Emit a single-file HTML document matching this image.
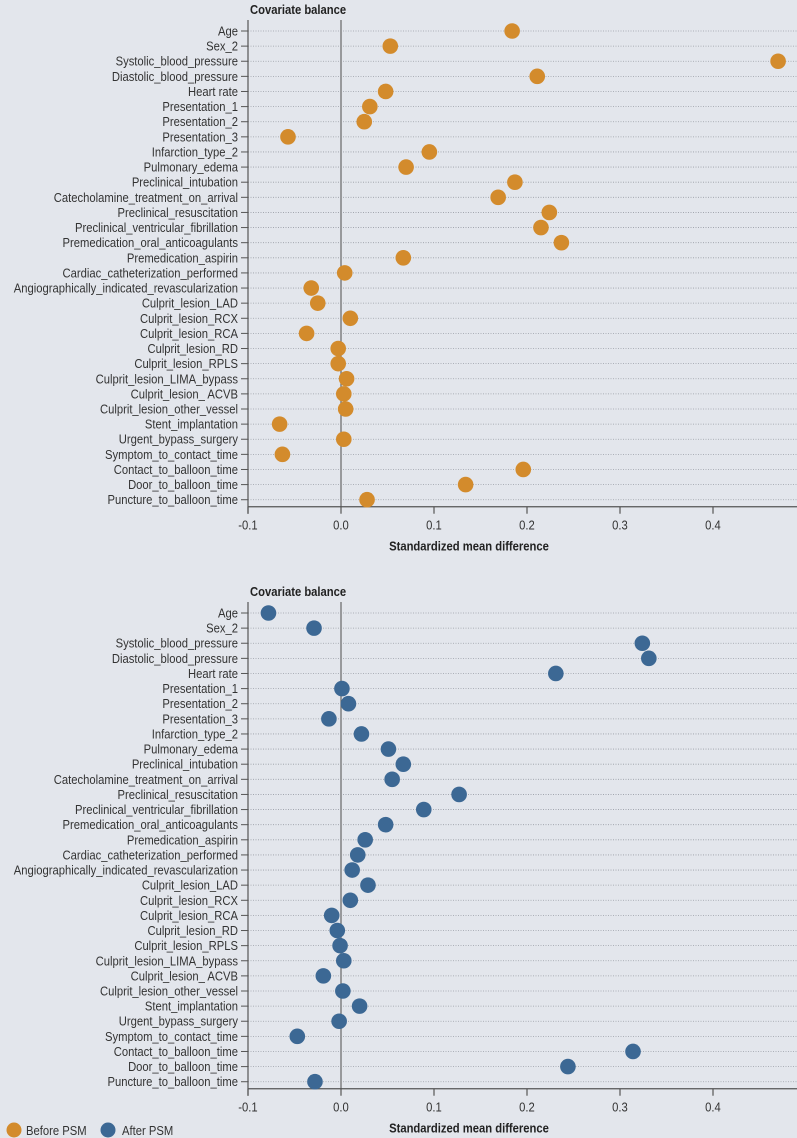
<!DOCTYPE html>
<html><head><meta charset="utf-8"><style>
html,body{margin:0;padding:0;background:#e3e6ec;}
svg{display:block;font-family:"Liberation Sans Narrow","Liberation Sans",sans-serif;}
</style></head><body>
<svg id="chart" width="797" height="1138"></svg>
<script>
const categories=["Age","Sex_2","Systolic_blood_pressure","Diastolic_blood_pressure","Heart rate","Presentation_1","Presentation_2","Presentation_3","Infarction_type_2","Pulmonary_edema","Preclinical_intubation","Catecholamine_treatment_on_arrival","Preclinical_resuscitation","Preclinical_ventricular_fibrillation","Premedication_oral_anticoagulants","Premedication_aspirin","Cardiac_catheterization_performed","Angiographically_indicated_revascularization","Culprit_lesion_LAD","Culprit_lesion_RCX","Culprit_lesion_RCA","Culprit_lesion_RD","Culprit_lesion_RPLS","Culprit_lesion_LIMA_bypass","Culprit_lesion_ ACVB","Culprit_lesion_other_vessel","Stent_implantation","Urgent_bypass_surgery","Symptom_to_contact_time","Contact_to_balloon_time","Door_to_balloon_time","Puncture_to_balloon_time"];
const beforePSM=[0.184,0.053,0.470,0.211,0.048,0.031,0.025,-0.057,0.095,0.070,0.187,0.169,0.224,0.215,0.237,0.067,0.004,-0.032,-0.025,0.010,-0.037,-0.003,-0.003,0.006,0.003,0.005,-0.066,0.003,-0.063,0.196,0.134,0.028];
const afterPSM=[-0.078,-0.029,0.324,0.331,0.231,0.001,0.008,-0.013,0.022,0.051,0.067,0.055,0.127,0.089,0.048,0.026,0.018,0.012,0.029,0.010,-0.010,-0.004,-0.001,0.003,-0.019,0.002,0.020,-0.002,-0.047,0.314,0.244,-0.028];
const xTicks=[-0.1,0.0,0.1,0.2,0.3,0.4];
const xTickLabels=["-0.1","0.0","0.1","0.2","0.3","0.4"];

const NS="http://www.w3.org/2000/svg";
const svg=document.getElementById('chart');
function mk(tag,attrs,parent,text){const e=document.createElementNS(NS,tag);for(const k in attrs)e.setAttribute(k,attrs[k]);if(text!==undefined)e.textContent=text;(parent||svg).appendChild(e);return e;}
const x=v=>341+v*930;
const SX=0.9;

function panel(top,values,color,name){
  const g=mk('g',{});
  
  
  const y0=top+11, step=15.12;
  const y=i=>y0+i*step;
  const axisBottom=y(31)+7;
  const t=mk('text',{x:250/SX,y:top-6,'font-size':12.5,'font-weight':'bold',fill:'#222',transform:'scale('+SX+',1)'},g,'Covariate balance');
  
  
  categories.forEach((c,i)=>{
    const gl=mk('line',{x1:248,x2:797,y1:y(i),y2:y(i),stroke:'#9a9ea6','stroke-width':0.8,'stroke-dasharray':'1,1.5'},g);
    
    
    mk('line',{x1:241,x2:248,y1:y(i),y2:y(i),stroke:'#555','stroke-width':1},g);
    const lb=mk('text',{x:238/SX,y:y(i)+4.5,'text-anchor':'end','font-size':12.5,fill:'#333',transform:'scale('+SX+',1)'},g,c);
    
    
  });
  mk('line',{x1:x(0),x2:x(0),y1:top,y2:axisBottom,stroke:'#666','stroke-width':1.2},g);
  const ya=mk('line',{x1:248,x2:248,y1:top,y2:axisBottom+7,stroke:'#555','stroke-width':1.2},g);
  
  
  const xa=mk('line',{x1:248,x2:797,y1:axisBottom,y2:axisBottom,stroke:'#555','stroke-width':1.2},g);
  
  
  xTicks.forEach((v,i)=>{
    mk('line',{x1:x(v),x2:x(v),y1:axisBottom,y2:axisBottom+7,stroke:'#555','stroke-width':1.2},g);
    const tl=mk('text',{x:x(v)/SX,y:axisBottom+23,'text-anchor':'middle','font-size':12.5,fill:'#333',transform:'scale('+SX+',1)'},g,xTickLabels[i]);
    
    
  });
  const xt=mk('text',{x:469/SX,y:axisBottom+44,'text-anchor':'middle','font-size':12.5,'font-weight':'bold',fill:'#222',transform:'scale('+SX+',1)'},g,'Standardized mean difference');
  
  
  values.forEach((v,i)=>{
    const d=mk('circle',{cx:x(v),cy:y(i),r:7.8,fill:color},g);
    
    
  });
}
panel(20,beforePSM,'#d38b2c','before-psm');
panel(602,afterPSM,'#3c6894','after-psm');

const lg=mk('g',{});


const l1=mk('circle',{cx:14,cy:1130,r:7.5,fill:'#d38b2c'},lg);


const lt1=mk('text',{x:26/SX,y:1135,'font-size':12.5,fill:'#333',transform:'scale('+SX+',1)'},lg,'Before PSM');


const l2=mk('circle',{cx:108,cy:1130,r:7.5,fill:'#3c6894'},lg);


const lt2=mk('text',{x:122/SX,y:1135,'font-size':12.5,fill:'#333',transform:'scale('+SX+',1)'},lg,'After PSM');


</script>
</body></html>
